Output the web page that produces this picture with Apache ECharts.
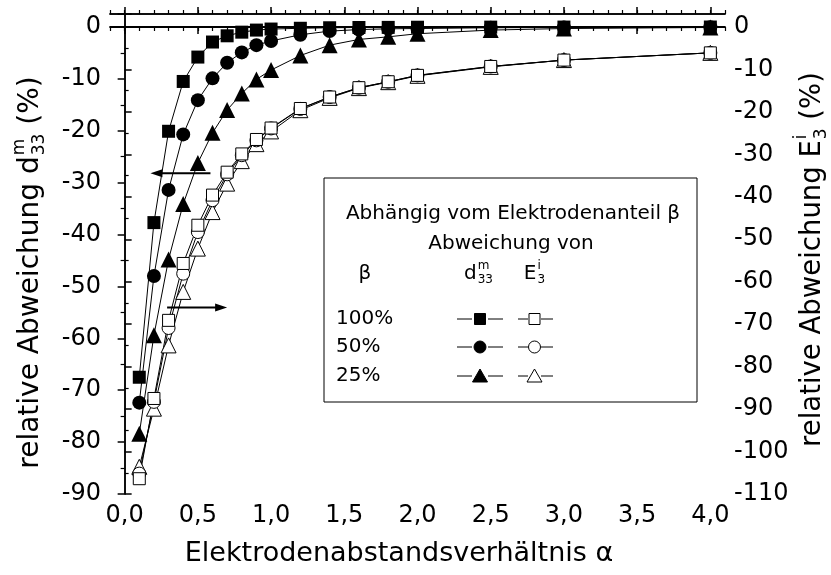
<!DOCTYPE html>
<html>
<head>
<meta charset="utf-8">
<script src="https://cdn.jsdelivr.net/npm/echarts@6/dist/echarts.min.js"></script>
<style>
  html, body { margin: 0; padding: 0; background: #fff; }
  #chart { width: 831px; height: 575px; }
</style>
</head>
<body>
<div id="chart"></div>
<script>
// Electrode spacing ratio alpha
const alpha = [0.1, 0.2, 0.3, 0.4, 0.5, 0.6, 0.7, 0.8, 0.9, 1.0, 1.2, 1.4, 1.6, 1.8, 2.0, 2.5, 3.0, 4.0];

// Relative deviation of d33 (%), left axis, for electrode share beta
const d33_100 = [-67.5, -37.7, -20.1, -10.5, -5.8, -2.9, -1.7, -1.0, -0.6, -0.4, -0.25, -0.15, -0.1, -0.08, -0.05, -0.03, -0.02, -0.01];
const d33_50  = [-72.4, -48.0, -31.4, -20.7, -14.1, -9.9, -6.9, -4.9, -3.5, -2.7, -1.5, -0.8, -0.5, -0.35, -0.3, -0.15, -0.1, -0.05];
const d33_25  = [-78.4, -59.4, -44.8, -34.1, -26.2, -20.4, -16.0, -12.8, -10.1, -8.3, -5.5, -3.5, -2.4, -1.9, -1.3, -0.6, -0.3, -0.1];

// Relative deviation of E3 (%), right axis
const e3_100 = [-106.4, -87.5, -69.1, -55.7, -46.7, -39.6, -34.2, -29.9, -26.5, -23.8, -19.2, -16.5, -14.3, -12.9, -11.4, -9.3, -7.8, -6.1];
const e3_50  = [-105.2, -88.3, -70.9, -58.1, -48.3, -40.8, -34.7, -30.2, -26.7, -23.9, -19.3, -16.5, -14.3, -12.9, -11.4, -9.3, -7.8, -6.1];
const e3_25  = [-103.6, -89.9, -75.0, -62.4, -52.2, -43.6, -36.9, -31.6, -27.6, -24.6, -19.6, -16.7, -14.4, -13.0, -11.5, -9.4, -7.8, -6.1];

// Axis ticks
const xMajorTicks = [0, 0.5, 1.0, 1.5, 2.0, 2.5, 3.0, 3.5, 4.0];
const betaLabels = ['100%', '50%', '25%'];

const FONT = 'DejaVu Sans';
const xMinorTicks = [];
for (let i = -1; i <= 41; i++) xMinorTicks.push(+(i / 10).toFixed(1));

const pair = (ys) => alpha.map((a, i) => [a, ys[i]]);

const filled = (name, symbol, size, ys) => ({
  name, type: 'line', yAxisIndex: 0, data: pair(ys),
  symbol, symbolSize: size, showSymbol: true,
  lineStyle: { color: '#000', width: 1 },
  itemStyle: { color: '#000' },
  emphasis: { disabled: true }, animation: false
});
const open = (name, symbol, size, ys) => ({
  name, type: 'line', yAxisIndex: 1, data: pair(ys),
  symbol, symbolSize: size, showSymbol: true,
  lineStyle: { color: '#000', width: 1 },
  itemStyle: { color: '#fff', borderColor: '#000', borderWidth: 1 },
  emphasis: { disabled: true }, animation: false
});

const axisLine = { show: true, lineStyle: { color: '#000', width: 1.5 } };

const chart = echarts.init(document.getElementById('chart'), null, { renderer: 'canvas' });

const series = [
  open('E3 25%', 'triangle', 15, e3_25),
  open('E3 50%', 'circle', 13, e3_50),
  open('E3 100%', 'rect', 12, e3_100),
  filled('d33 25%', 'triangle', 16, d33_25),
  filled('d33 50%', 'circle', 14, d33_50),
  filled('d33 100%', 'rect', 13, d33_100)
];
series[3].markLine = {
  silent: true, symbol: ['none', 'none'], label: { show: false },
  lineStyle: { color: '#000', width: 2, type: 'solid' },
  data: [{ yAxis: 0 }], animation: false
};

const xBase = { type: 'value', min: -0.1, max: 4.1, splitLine: { show: false }, axisLine };

chart.setOption({
  animation: false,
  backgroundColor: '#fff',
  grid: { left: 110, right: 106, top: 14, bottom: 81, containLabel: false },
  xAxis: [
    Object.assign({}, xBase, {
      position: 'bottom',
      axisTick: { show: true, inside: false, length: 7, customValues: xMajorTicks, lineStyle: { color: '#000', width: 1.5 } },
      axisLabel: {
        show: true, customValues: xMajorTicks, margin: 10,
        fontFamily: FONT, fontSize: 24, color: '#000',
        formatter: (v) => v.toFixed(1).replace('.', ',')
      }
    }),
    Object.assign({}, xBase, {
      position: 'bottom',
      axisTick: { show: true, inside: false, length: 4, customValues: xMinorTicks, lineStyle: { color: '#000', width: 1.2 } },
      axisLabel: { show: false }
    }),
    Object.assign({}, xBase, {
      position: 'top',
      axisTick: { show: true, inside: false, length: 7, customValues: xMajorTicks, lineStyle: { color: '#000', width: 1.5 } },
      axisLabel: { show: false }
    }),
    Object.assign({}, xBase, {
      position: 'top',
      axisTick: { show: true, inside: false, length: 4, customValues: xMinorTicks, lineStyle: { color: '#000', width: 1.2 } },
      axisLabel: { show: false }
    })
  ],
  yAxis: [
    {
      type: 'value', position: 'left', min: -90, max: 2.5, interval: 10,
      axisLine, splitLine: { show: false },
      axisTick: { show: true, inside: false, length: 7, lineStyle: { color: '#000', width: 1.5 } },
      minorTick: { show: true, splitNumber: 2, length: 4, lineStyle: { color: '#000', width: 1.2 } },
      axisLabel: { margin: 9, fontFamily: FONT, fontSize: 24, color: '#000', showMaxLabel: false,
        formatter: (v) => (v > 0 ? '' : String(v)) }
    },
    {
      type: 'value', position: 'right', min: -110, max: 110 * 2.5 / 90, interval: 10,
      axisLine, splitLine: { show: false },
      axisTick: { show: true, inside: false, length: 7, lineStyle: { color: '#000', width: 1.5 } },
      minorTick: { show: true, splitNumber: 2, length: 4, lineStyle: { color: '#000', width: 1.2 } },
      axisLabel: { margin: 9, fontFamily: FONT, fontSize: 24, color: '#000', showMaxLabel: false,
        formatter: (v) => (v > 0 ? '' : String(v)) }
    }
  ],
  series
});

// ---- Text helpers: composite labels with super/subscripts ----
const ctx = document.createElement('canvas').getContext('2d');
function textWidth(t, size) { ctx.font = size + 'px "' + FONT + '"'; return ctx.measureText(t).width; }

function txt(t, x, y, size, align) {
  return {
    type: 'text', silent: true,
    style: {
      text: t, x, y, fill: '#000',
      font: size + 'px "' + FONT + '"',
      align: align || 'left', textAlign: align || 'left',
      verticalAlign: 'middle', textVerticalAlign: 'middle'
    }
  };
}

// Builds text parts laid out horizontally around 0: [pre, base, sup, sub, post]
function scriptLabel(pre, sup, sub, post, size) {
  const small = Math.round(size * 0.62);
  const wPre = textWidth(pre, size);
  const wScript = Math.max(textWidth(sup, small), textWidth(sub, small));
  const wPost = textWidth(post, size);
  const total = wPre + wScript + wPost;
  let x = -total / 2;
  const parts = [];
  parts.push(txt(pre, x, 0, size));
  x += wPre;
  parts.push(txt(sup, x + 1, -size * 0.42, small));
  parts.push(txt(sub, x + 1, size * 0.3, small));
  x += wScript + 1;
  parts.push(txt(post, x, 0, size));
  return parts;
}

const graphics = [];

// Axis titles
graphics.push({
  type: 'group', x: 31, y: 273, rotation: Math.PI / 2,
  children: scriptLabel('relative Abweichung d', 'm', '33', ' (%)', 28)
});
graphics.push({
  type: 'group', x: 813, y: 260, rotation: Math.PI / 2,
  children: scriptLabel('relative Abweichung E', 'i', '3', ' (%)', 27.5)
});
graphics.push(txt('Elektrodenabstandsverhältnis α', 399, 554, 27, 'center'));

// Legend box
const box = { x: 324, y: 178, w: 373, h: 224 };
graphics.push({
  type: 'rect', silent: true,
  shape: { x: box.x, y: box.y, width: box.w, height: box.h },
  style: { fill: '#fff', stroke: '#000', lineWidth: 1 }
});
graphics.push(txt('Abhängig vom Elektrodenanteil β', 513, 214, 20, 'center'));
graphics.push(txt('Abweichung von', 511, 244, 20, 'center'));
graphics.push(txt('β', 365, 274, 20, 'center'));
graphics.push({ type: 'group', x: 478, y: 274, children: scriptLabel('d', 'm', '33', '', 20) });
graphics.push({ type: 'group', x: 534, y: 274, children: scriptLabel('E', 'i', '3', '', 20) });

const rowY = [319, 347, 376];
const shapes = ['rect', 'circle', 'triangle'];
function marker(kind, cx, cy, fill) {
  const style = { fill, stroke: '#000', lineWidth: 1 };
  if (kind === 'rect') return { type: 'rect', silent: true, shape: { x: cx - 5.5, y: cy - 5.5, width: 11, height: 11 }, style };
  if (kind === 'circle') return { type: 'circle', silent: true, shape: { cx, cy, r: 6 }, style };
  return { type: 'polygon', silent: true, shape: { points: [[cx, cy - 7], [cx + 7.5, cy + 6], [cx - 7.5, cy + 6]] }, style };
}
function seg(x1, x2, y) {
  return { type: 'line', silent: true, shape: { x1, y1: y, x2, y2: y }, style: { stroke: '#000', lineWidth: 1 } };
}
betaLabels.forEach((lab, i) => {
  const y = rowY[i];
  graphics.push(txt(lab, 336, y, 20));
  // filled marker sample (d33)
  graphics.push(seg(457, 472, y), seg(488, 503, y), marker(shapes[i], 480, y, '#000'));
  // open marker sample (E3)
  graphics.push(seg(518, 528, y), seg(541, 553, y), marker(shapes[i], 534.5, y, '#fff'));
});

// Arrows pointing at the corresponding axis
function arrow(p1, p2) {
  const dir = Math.sign(p2[0] - p1[0]);
  const tip = p2;
  return [
    { type: 'line', silent: true, shape: { x1: p1[0], y1: p1[1], x2: tip[0] - dir * 8, y2: tip[1] }, style: { stroke: '#000', lineWidth: 2 } },
    { type: 'polygon', silent: true, shape: { points: [[tip[0], tip[1]], [tip[0] - dir * 12, tip[1] - 4], [tip[0] - dir * 12, tip[1] + 4]] }, style: { fill: '#000' } }
  ];
}
const lA = chart.convertToPixel({ xAxisIndex: 0, yAxisIndex: 0 }, [0.586, -28.2]);
const lB = chart.convertToPixel({ xAxisIndex: 0, yAxisIndex: 0 }, [0.176, -28.2]);
const rA = chart.convertToPixel({ xAxisIndex: 0, yAxisIndex: 1 }, [0.29, -66.1]);
const rB = chart.convertToPixel({ xAxisIndex: 0, yAxisIndex: 1 }, [0.70, -66.1]);
graphics.push(...arrow(lA, lB), ...arrow(rA, rB));

chart.setOption({ graphic: graphics });
</script>
</body>
</html>
